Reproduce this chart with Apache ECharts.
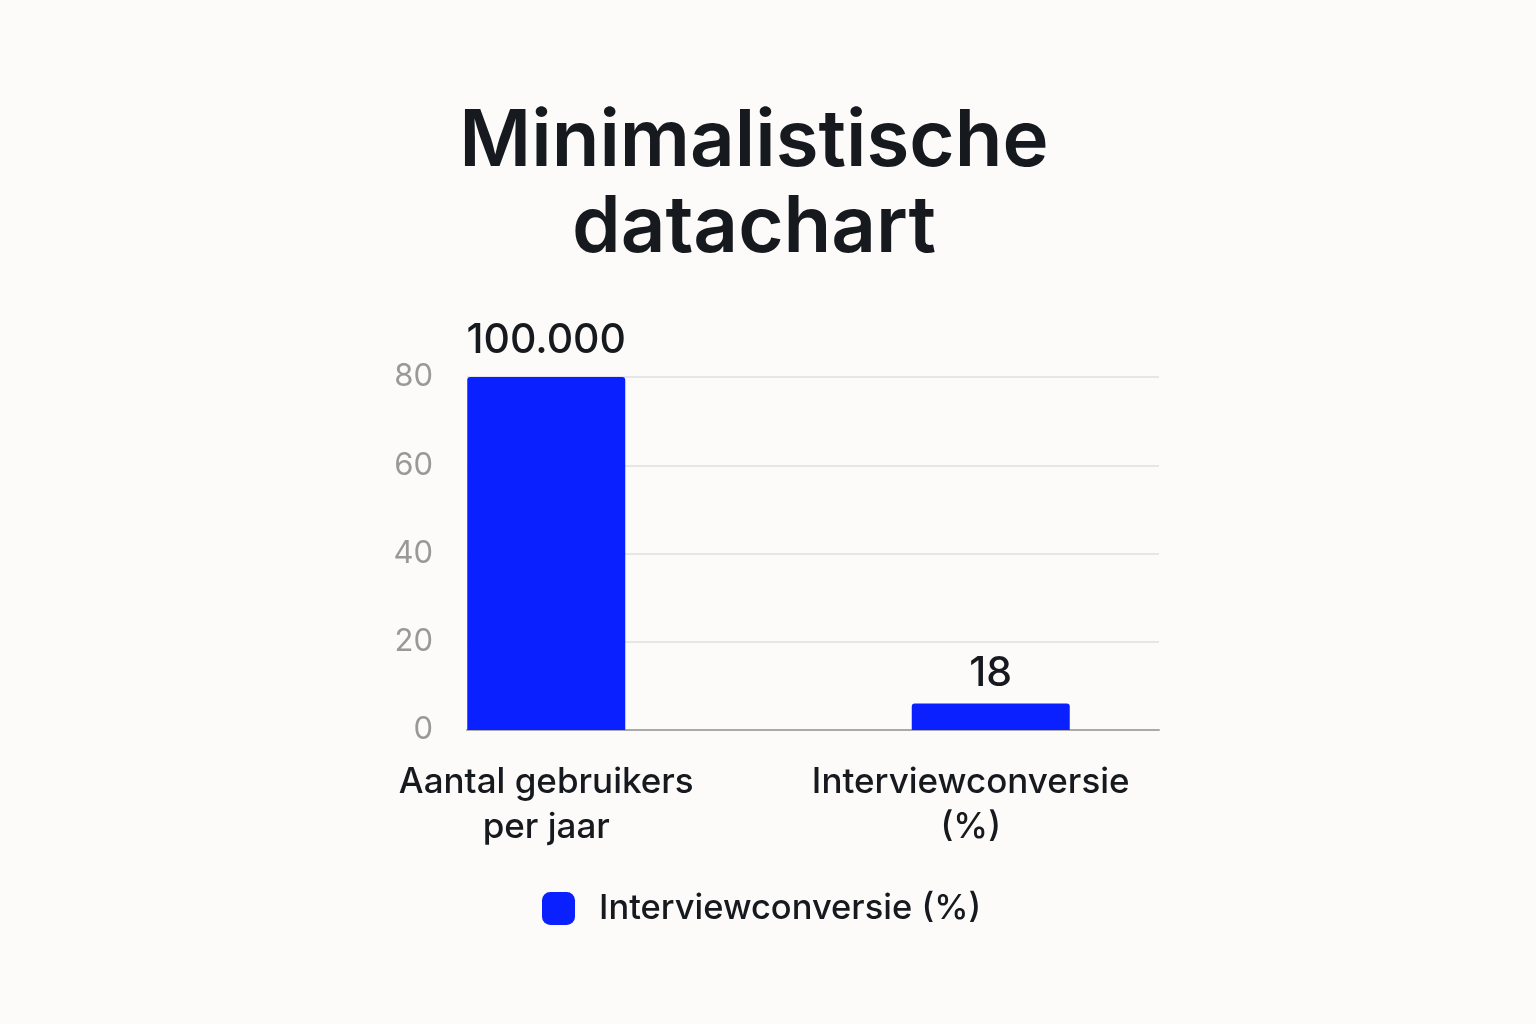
<!DOCTYPE html>
<html>
<head>
<meta charset="utf-8">
<script src="https://cdn.jsdelivr.net/npm/echarts@6/dist/echarts.min.js"></script>
<style>
html,body{margin:0;padding:0;background:#fcfbf9;}
#chart{width:1536px;height:1024px;}
</style>
</head>
<body>
<div id="chart"></div>
<script>
const titleText = 'Minimalistische\ndatachart';
const categories = ['Aantal gebruikers\nper jaar', 'Interviewconversie\n(%)'];
const seriesName = 'Interviewconversie (%)';
const values = [80, 6];
const valueLabels = ['100.000', '18'];
const yTicks = [0, 20, 40, 60, 80];

const FONT = 'Inter, "Noto Sans", sans-serif';
const labelDistances = [16, 9];
const chart = echarts.init(document.getElementById('chart'));
chart.setOption({
  backgroundColor: '#fcfbf9',
  animation: false,
  title: {
    text: titleText,
    left: 749,
    top: 95,
    textAlign: 'center',
    textStyle: { fontFamily: FONT, fontSize: 78, fontWeight: 600, lineHeight: 86, color: '#16191d' }
  },
  legend: {
    data: [seriesName],
    left: 537,
    top: 886,
    itemWidth: 33,
    itemHeight: 33,
    icon: 'roundRect',
    textStyle: { fontFamily: FONT, fontSize: 34.5, fontWeight: 500, color: '#16191d', padding: [0, 0, 0, 19] }
  },
  grid: [
    { left: 467, right: 377, top: 377, bottom: 294 },
    { left: 324, right: 323, top: 377, bottom: 294 }
  ],
  xAxis: [
    {
      type: 'category', gridIndex: 0, data: categories,
      axisLine: { show: true, lineStyle: { color: '#aaaaaa', width: 2 } },
      axisTick: { show: false }, axisLabel: { show: false }
    },
    {
      type: 'category', gridIndex: 1,
      data: categories.map((c, i) => i === 1 ? { value: c, textStyle: { padding: [0, 40, 0, 0] } } : c),
      axisLine: { show: false }, axisTick: { show: false },
      axisLabel: { fontFamily: FONT, fontSize: 35, fontWeight: 500, lineHeight: 45, color: '#16191d', margin: 30, interval: 0 }
    }
  ],
  yAxis: [
    {
      type: 'value', gridIndex: 0, min: yTicks[0], max: yTicks[yTicks.length - 1], interval: 20,
      axisLine: { show: false }, axisTick: { show: false },
      splitLine: { lineStyle: { color: '#e6e6e6', width: 2 } },
      axisLabel: { fontFamily: FONT, fontSize: 31, color: '#999999', margin: 34 }
    },
    {
      type: 'value', gridIndex: 1, min: yTicks[0], max: yTicks[yTicks.length - 1], interval: 20,
      show: false
    }
  ],
  series: [{
    name: seriesName,
    type: 'bar',
    xAxisIndex: 1,
    yAxisIndex: 1,
    data: values.map((v, i) => ({ value: v, label: { distance: labelDistances[i] } })),
    barWidth: 158,
    itemStyle: { color: '#0b20ff', borderRadius: [3, 3, 0, 0] },
    label: {
      show: true,
      position: 'top',
      formatter: p => valueLabels[p.dataIndex],
      fontFamily: FONT, fontSize: 41, fontWeight: 500, color: '#16191d'
    }
  }]
});
</script>
</body>
</html>
